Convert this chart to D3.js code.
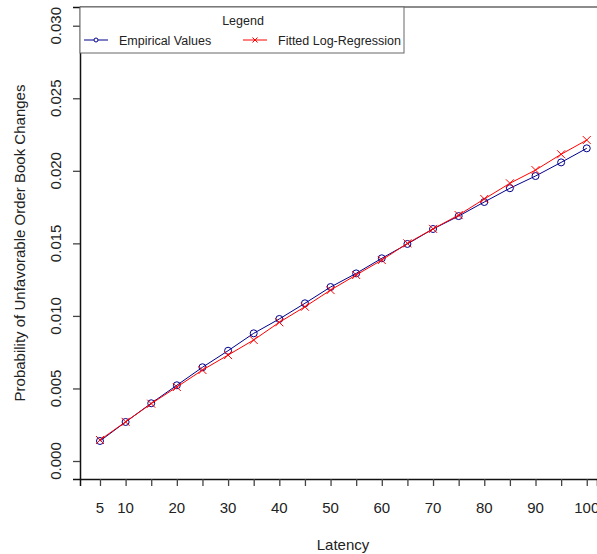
<!DOCTYPE html>
<html>
<head>
<meta charset="utf-8">
<script src="https://cdn.jsdelivr.net/npm/d3@7"></script>
<style>
  body { margin: 0; background: #fff; }
  svg text { font-family: "Liberation Sans", Arial, sans-serif; fill: #222; }
</style>
</head>
<body>
<svg id="chart" width="597" height="554"></svg>
<script>
const latency = [5, 10, 15, 20, 25, 30, 35, 40, 45, 50, 55, 60, 65, 70, 75, 80, 85, 90, 95, 100]
const empirical = [0.00138, 0.00269, 0.00398, 0.00522, 0.00646, 0.0076, 0.0088, 0.00979, 0.01087, 0.01199,
  0.01293, 0.01397, 0.01496, 0.01599, 0.01688, 0.01785, 0.01880, 0.01964, 0.02058, 0.02155]
const fitted = [0.00145, 0.0027, 0.00395, 0.0051, 0.00627, 0.0073, 0.00834, 0.00956, 0.01063, 0.01178,
  0.01282, 0.01385, 0.0150, 0.0160, 0.01695, 0.01806, 0.01914, 0.02005, 0.02114, 0.02212]
const xTicks = d3.range(5, 101, 5)
const xLabels = [5, 10, 20, 30, 40, 50, 60, 70, 80, 90, 100]
const yTicks = [0, 0.005, 0.01, 0.015, 0.02, 0.025, 0.03]

const svg = d3.select('#chart')

const x = d3.scaleLinear().domain([1.1, 102]).range([80, 597])
const y = d3.scaleLinear().domain([-0.00124, 0.03129]).range([479, 7])

// axes
const xAxis = svg.append('g').attr('transform', 'translate(0,479)')
  .call(d3.axisBottom(x).tickValues(xTicks).tickSize(7).tickFormat(''))
xAxis.select('.domain').attr('stroke', '#111').attr('stroke-width', 1.5)
xAxis.selectAll('.tick line').attr('stroke', '#444').attr('stroke-width', 1.3)

svg.append('g').selectAll('text').data(xLabels).enter().append('text')
  .attr('x', (d) => x(d))
  .attr('y', 513)
  .attr('text-anchor', 'middle')
  .attr('font-size', 15)
  .text((d) => d)

const yAxis = svg.append('g').attr('transform', 'translate(80,0)')
  .call(d3.axisLeft(y).tickValues(yTicks).tickSize(7).tickFormat(''))
yAxis.select('.domain').attr('stroke', '#111').attr('stroke-width', 1.5)
yAxis.selectAll('.tick line').attr('stroke', '#444').attr('stroke-width', 1.3)

svg.append('g').selectAll('text').data(yTicks).enter().append('text')
  .attr('transform', (d) => `translate(61,${y(d)}) rotate(-90)`)
  .attr('text-anchor', 'middle')
  .attr('font-size', 15)
  .text((d) => d3.format('.3f')(d))

// top border
svg.append('line')
  .attr('x1', 80).attr('x2', 597).attr('y1', 7).attr('y2', 7)
  .attr('stroke', '#666').attr('stroke-width', 1.5)

// titles
svg.append('text')
  .attr('x', 343).attr('y', 550)
  .attr('text-anchor', 'middle')
  .attr('font-size', 15)
  .text('Latency')

svg.append('text')
  .attr('transform', 'translate(25,243) rotate(-90)')
  .attr('text-anchor', 'middle')
  .attr('font-size', 15)
  .text('Probability of Unfavorable Order Book Changes')

// series
const line = (vals) => d3.line().x((d, i) => x(latency[i])).y((d) => y(d))(vals)

svg.append('path').attr('d', line(empirical))
  .attr('fill', 'none').attr('stroke', '#00008b').attr('stroke-width', 1)
svg.append('g').selectAll('circle').data(empirical).enter().append('circle')
  .attr('cx', (d, i) => x(latency[i]))
  .attr('cy', (d) => y(d))
  .attr('r', 3.5)
  .attr('fill', 'none')
  .attr('stroke', '#00008b')

svg.append('path').attr('d', line(fitted))
  .attr('fill', 'none').attr('stroke', 'red').attr('stroke-width', 1)
const cross = (cx, cy, s) => `M${cx - s},${cy - s}L${cx + s},${cy + s}M${cx - s},${cy + s}L${cx + s},${cy - s}`
svg.append('g').selectAll('path').data(fitted).enter().append('path')
  .attr('d', (d, i) => cross(x(latency[i]), y(d), 4))
  .attr('fill', 'none')
  .attr('stroke', 'red')

// legend
const legend = svg.append('g')
legend.append('rect')
  .attr('x', 80).attr('y', 7).attr('width', 324).attr('height', 46)
  .attr('fill', '#fff').attr('stroke', '#666').attr('stroke-width', 1)
legend.append('text')
  .attr('x', 243).attr('y', 25)
  .attr('text-anchor', 'middle')
  .attr('font-size', 12.5)
  .text('Legend')

legend.append('line').attr('x1', 84).attr('x2', 108).attr('y1', 40).attr('y2', 40)
  .attr('stroke', '#00008b')
legend.append('circle').attr('cx', 96).attr('cy', 40).attr('r', 2)
  .attr('fill', '#fff').attr('stroke', '#00008b')
legend.append('text').attr('x', 119).attr('y', 44.5)
  .attr('font-size', 12.5).text('Empirical Values')

legend.append('line').attr('x1', 243).attr('x2', 267).attr('y1', 40).attr('y2', 40)
  .attr('stroke', 'red')
legend.append('path').attr('d', cross(255, 40, 2.5))
  .attr('fill', 'none').attr('stroke', 'red')
legend.append('text').attr('x', 278).attr('y', 44.5)
  .attr('font-size', 12.5).text('Fitted Log-Regression')
</script>
</body>
</html>
